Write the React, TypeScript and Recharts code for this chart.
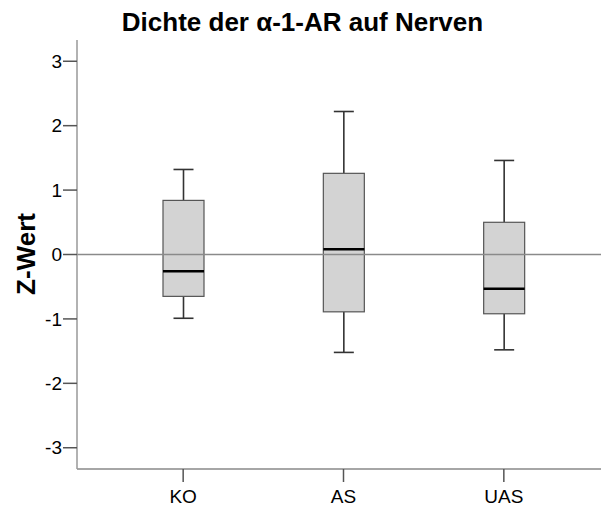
import React from "react";
import {
  ComposedChart,
  Bar,
  XAxis,
  YAxis,
  ReferenceLine,
  Label,
} from "recharts";

const groups = ["KO", "AS", "UAS"];
const whiskerLow = [-0.99, -1.52, -1.48];
const quartile1 = [-0.65, -0.89, -0.92];
const medians = [-0.26, 0.08, -0.53];
const quartile3 = [0.84, 1.26, 0.5];
const whiskerHigh = [1.32, 2.22, 1.46];
const yTicks = [-3, -2, -1, 0, 1, 2, 3];

const FONT = "'Liberation Sans', Arial, sans-serif";

const data = groups.map((g, i) => ({
  name: g,
  min: whiskerLow[i],
  q1: quartile1[i],
  median: medians[i],
  q3: quartile3[i],
  max: whiskerHigh[i],
}));

// bar spans min..max, so its pixel box gives us the y scale for the other parts
function BoxShape(props: any) {
  const { x, y, width, height, payload } = props;
  const top = Math.min(y, y + height);
  const h = Math.abs(height);
  const span = payload.max - payload.min;
  const toY = (v: number) => top + ((payload.max - v) / span) * h;
  const cx = x + width / 2;
  const cap = 10;
  return (
    <g>
      <line x1={cx} x2={cx} y1={toY(payload.max)} y2={toY(payload.q3)} stroke="#333" strokeWidth={1.6} />
      <line x1={cx} x2={cx} y1={toY(payload.q1)} y2={toY(payload.min)} stroke="#333" strokeWidth={1.6} />
      <line x1={cx - cap} x2={cx + cap} y1={toY(payload.max)} y2={toY(payload.max)} stroke="#333" strokeWidth={1.6} />
      <line x1={cx - cap} x2={cx + cap} y1={toY(payload.min)} y2={toY(payload.min)} stroke="#333" strokeWidth={1.6} />
      <rect
        x={x}
        y={toY(payload.q3)}
        width={width}
        height={toY(payload.q1) - toY(payload.q3)}
        fill="#d3d3d3"
        stroke="#555"
        strokeWidth={1.2}
      />
      <line x1={x} x2={x + width} y1={toY(payload.median)} y2={toY(payload.median)} stroke="#000" strokeWidth={2.5} />
    </g>
  );
}

const tickStyle = { fill: "#000", fontSize: 19, fontFamily: FONT };

function XTick(props: any) {
  const { x, y, payload } = props;
  return (
    <text x={x} y={y} dy="0.71em" textAnchor="middle" style={tickStyle}>
      {payload.value}
    </text>
  );
}

function YTick(props: any) {
  const { x, y, payload } = props;
  return (
    <text x={x} y={y} dy="0.355em" textAnchor="end" style={tickStyle}>
      {payload.value}
    </text>
  );
}

export default function App() {
  return (
    <div style={{ position: "absolute", left: 0, top: 0, width: 601, height: 508, background: "#fff", fontFamily: FONT }}>
      <div
        style={{
          position: "absolute",
          left: 2,
          top: 7,
          width: 601,
          textAlign: "center",
          fontSize: 26,
          fontWeight: "bold",
          color: "#000",
          whiteSpace: "nowrap",
        }}
      >
        Dichte der α-1-AR auf Nerven
      </div>
      <ComposedChart
        width={601}
        height={508}
        data={data}
        margin={{ top: 40, right: 0, bottom: 0, left: 0 }}
      >
        <ReferenceLine y={0} stroke="#8a8a8a" strokeWidth={1.5} ifOverflow="extendDomain" />
        <XAxis
          dataKey="name"
          type="category"
          height={39}
          padding={{ left: 26, right: 17 }}
          axisLine={{ stroke: "#888", strokeWidth: 1.5 }}
          tickLine={{ stroke: "#555", strokeWidth: 1.5 }}
          tickSize={13}
          tickMargin={8}
          tick={<XTick />}
        />
        <YAxis
          type="number"
          domain={[-3.33, 3.33]}
          ticks={yTicks}
          width={77}
          axisLine={{ stroke: "#999", strokeWidth: 1.5 }}
          tickLine={{ stroke: "#555", strokeWidth: 1.5 }}
          tickSize={14}
          tickMargin={1}
          tick={<YTick />}
        >
          <Label
            content={() => (
              <text
                x={26}
                y={254}
                transform="rotate(-90 26 254)"
                textAnchor="middle"
                dominantBaseline="central"
                fontSize={26}
                fontWeight="bold"
                fontFamily={FONT}
                fill="#000"
              >
                Z-Wert
              </text>
            )}
          />
        </YAxis>
        <Bar
          dataKey={(d: any) => [d.min, d.max]}
          barSize={41}
          shape={BoxShape}
          isAnimationActive={false}
        />
      </ComposedChart>
    </div>
  );
}
